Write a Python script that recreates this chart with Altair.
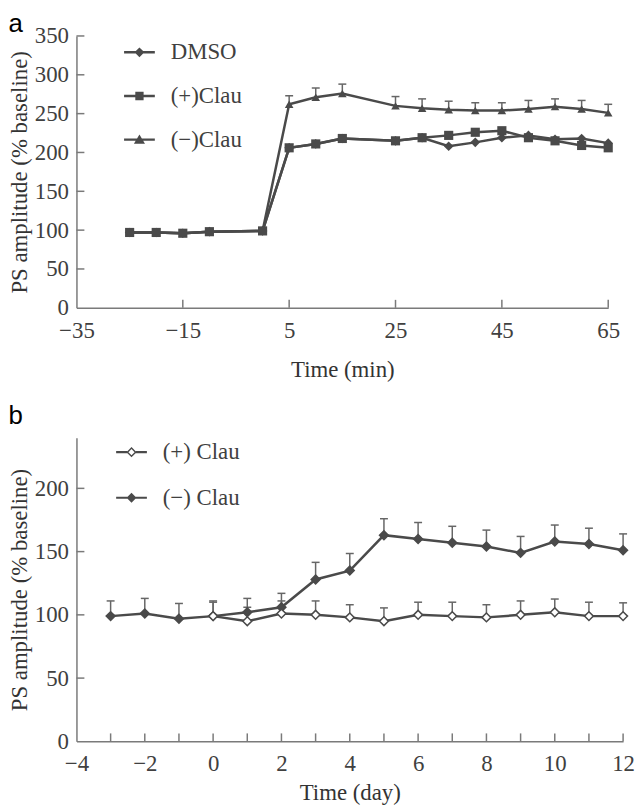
import altair as alt
import pandas as pd

DARK = "#4a4a4a"
ERRC = "#666666"
AXC = "#7a7a7a"
TXT = "#404040"
SERIF = "Liberation Serif"

# ---------------- Panel a data ----------------
a_time = [-25, -20, -15, -10, 0, 5, 10, 15, 25, 30, 35, 40, 45, 50, 55, 60, 65]
a_dmso = [97, 97, 96, 98, 99, 206, 211, 218, 215, 219, 208, 213, 219, 222, 217, 218, 212]
a_plus = [97, 97, 96, 98, 99, 206, 211, 218, 215, 219, 222, 226, 228, 219, 215, 209, 206]
a_minus = [97, 97, 96, 98, 99, 262, 271, 276, 260, 257, 255, 254, 254, 256, 259, 256, 251]
a_minus_err = [None, None, None, None, None, 11, 12, 12, 12, 12, 11, 10, 10, 11, 10, 11, 11]
a_series = ["DMSO", "(+)Clau", "(\u2212)Clau"]
a_xticks = [-15, 5, 25, 45, 65]
a_yticks = [50, 100, 150, 200, 250, 300, 350]

# ---------------- Panel b data ----------------
b_days_plus = [0, 1, 2, 3, 4, 5, 6, 7, 8, 9, 10, 11, 12]
b_plus = [99, 95, 101, 100, 98, 95, 100, 99, 98, 100, 102, 99, 99]
b_plus_err = [11, 11, 10, 11, 10, 10.5, 10, 11, 10, 11, 10.5, 11, 10.5]
b_days_minus = [-3, -2, -1, 0, 1, 2, 3, 4, 5, 6, 7, 8, 9, 10, 11, 12]
b_minus = [99, 101, 97, 99, 102, 106, 128, 135, 163, 160, 157, 154, 149, 158, 156, 151]
b_minus_err = [12, 12, 12, 12, 11, 11, 13.5, 13.5, 13, 13, 13, 13, 13, 13, 12.5, 13]
b_series = ["(\u2212) Clau", "(+) Clau"]  # drawing order: filled first, open on top
b_legend_order = ["(+) Clau", "(\u2212) Clau"]
b_xticks = list(range(-3, 13))
b_yticks = [50, 100, 150, 200]

# ---------------- tables ----------------
rows = []
for name, vals in [("DMSO", a_dmso), ("(\u2212)Clau", a_minus), ("(+)Clau", a_plus)]:
    for i, (t, v) in enumerate(zip(a_time, vals)):
        e = a_minus_err[i] if name == "(\u2212)Clau" else None
        rows.append({"t": t, "v": v, "series": name, "hi": (v + e) if e else None})
dfa = pd.DataFrame(rows)
dfa_err = dfa.dropna(subset=["hi"])

rows = []
for name, days, vals, errs in [("(\u2212) Clau", b_days_minus, b_minus, b_minus_err),
                               ("(+) Clau", b_days_plus, b_plus, b_plus_err)]:
    for t, v, e in zip(days, vals, errs):
        rows.append({"t": t, "v": v, "series": name, "hi": v + e})
dfb = pd.DataFrame(rows)

leg_a = pd.DataFrame({"series": a_series})
leg_b = pd.DataFrame({"series": b_legend_order})

YTITLE = "PS amplitude (% baseline)"


def lab_axis(values, title, pad_label, pad_title):
    return alt.Axis(values=values, title=title, ticks=False, labelPadding=pad_label,
                    titlePadding=pad_title, grid=False, labelOverlap=False,
                    labelFlush=False)


def panel(df, dferr, xdom, ydom, xvals, yvals, xtitle, xt, yt, width, height, letter,
          point_layer, legend_layer, xlabel_pad, xtitle_pad, title_offset):
    xax = lab_axis(xvals, xtitle, xlabel_pad, xtitle_pad)
    yax = lab_axis(yvals, YTITLE, 8, 3)
    xs = alt.Scale(domain=xdom, nice=False, zero=False)
    ys = alt.Scale(domain=ydom, nice=False)
    X = lambda f: alt.X(f, scale=xs, axis=xax, title=xtitle)
    Y = lambda f: alt.Y(f, scale=ys, axis=yax, title=YTITLE)

    rule = alt.Chart(dferr).mark_rule(color=ERRC, strokeWidth=1.5, opacity=1).encode(
        x=X("t:Q"), y=Y("v:Q"), y2="hi:Q")
    cap = alt.Chart(dferr).mark_tick(orient="horizontal", color=ERRC, size=8, thickness=1.5,
                                     opacity=1).encode(x=X("t:Q"), y=Y("hi:Q"))
    line = alt.Chart(df).mark_line(color=DARK, strokeWidth=2.5).encode(
        x=X("t:Q"), y=Y("v:Q"), detail="series:N", order="t:Q")
    pts = point_layer(alt.Chart(df), X, Y)

    xtick = alt.Chart(pd.DataFrame({"t": xt})).mark_tick(
        orient="vertical", color=AXC, size=8, thickness=1.5, yOffset=-4, opacity=1
    ).encode(x=X("t:Q"),
             y=alt.Y(datum=ydom[0], type="quantitative", scale=ys, axis=yax, title=YTITLE))
    ytick = alt.Chart(pd.DataFrame({"v": yt})).mark_tick(
        orient="horizontal", color=AXC, size=8, thickness=1.5, xOffset=4, opacity=1
    ).encode(x=alt.X(datum=xdom[0], type="quantitative", scale=xs, axis=xax, title=xtitle),
             y=Y("v:Q"))

    leg = legend_layer()

    return alt.layer(rule, cap, line, pts, xtick, ytick, leg).resolve_scale(
        shape="independent", fill="independent", size="independent"
    ).properties(
        width=width, height=height,
        title=alt.TitleParams(letter, anchor="start", frame="bounds", font="Liberation Sans",
                              fontSize=26, fontWeight="normal", color="#000",
                              offset=title_offset),
    )


# ----- legend symbols: filled outlines only (line drawn as a thin bar) -----
BAR = "M-1,-0.08H1V0.08H-1Z"
a_paths = [
    BAR + "M0,-0.32L0.32,0L0,0.32L-0.32,0Z",
    BAR + "M-0.27,-0.27H0.27V0.27H-0.27Z",
    BAR + "M0,-0.34L0.36,0.26H-0.36Z",
]
b_paths = [
    "M-1,-0.07H-0.28V0.07H-1Z" "M0.28,-0.07H1V0.07H0.28Z"
    "M0,-0.33L0.33,0L0,0.33L-0.33,0Z" "M0,-0.2L-0.2,0L0,0.2L0.2,0Z",
    "M-1,-0.07H1V0.07H-1Z" "M0,-0.32L0.32,0L0,0.32L-0.32,0Z",
]


def legend_params(lx, ly, rp):
    return dict(orient="none", legendX=lx, legendY=ly, title=None, symbolSize=961,
                symbolStrokeWidth=0, symbolFillColor=DARK, symbolOpacity=1,
                labelFont=SERIF, labelFontSize=23, labelColor=TXT, labelOffset=16,
                rowPadding=rp, padding=0)


def a_points(base, X, Y):
    return base.mark_point(filled=True, color=DARK, opacity=1).encode(
        x=X("t:Q"), y=Y("v:Q"),
        shape=alt.Shape("series:N", scale=alt.Scale(domain=a_series,
                        range=["diamond", "square", "triangle-up"]), legend=None),
        size=alt.Size("series:N", scale=alt.Scale(domain=a_series, range=[95, 75, 110]),
                      legend=None),
    )


def a_legend():
    return alt.Chart(leg_a).transform_filter("false").mark_point(
        filled=True, color=DARK, opacity=1
    ).encode(
        shape=alt.Shape("series:N", scale=alt.Scale(domain=a_series, range=a_paths),
                        legend=alt.Legend(**legend_params(48, 1, 16))),
    )


def b_points(base, X, Y):
    return base.mark_point(shape="diamond", size=80, stroke=DARK, strokeWidth=1.5,
                           opacity=1).encode(
        x=X("t:Q"), y=Y("v:Q"),
        fill=alt.Fill("series:N", scale=alt.Scale(domain=b_series, range=[DARK, "white"]),
                      legend=None),
    )


def b_legend():
    return alt.Chart(leg_b).transform_filter("false").mark_point(
        filled=True, color=DARK, opacity=1
    ).encode(
        shape=alt.Shape("series:N", scale=alt.Scale(domain=b_legend_order, range=b_paths),
                        legend=alt.Legend(**legend_params(40, -1, 18))),
    )


pa = panel(dfa, dfa_err, [-35, 65], [0, 350], [-35, -15, 5, 25, 45, 65],
           [0, 50, 100, 150, 200, 250, 300, 350], "Time (min)", a_xticks, a_yticks,
           536, 274, "a", a_points, a_legend, 12, 16, -12)
pb = panel(dfb, dfb, [-4, 12], [0, 240], [-4, -2, 0, 2, 4, 6, 8, 10, 12],
           [0, 50, 100, 150, 200], "Time (day)", b_xticks, b_yticks,
           551, 306, "b", b_points, b_legend, 11, 7, 8)

chart = alt.vconcat(pa, pb, spacing=22).properties(padding=0).configure_view(
    stroke=None
).configure_axis(
    domainColor=AXC, domainWidth=1.5, labelFont=SERIF, labelFontSize=23, labelColor=TXT,
    titleFont=SERIF, titleFontSize=23, titleFontWeight="normal", titleColor="#333",
    grid=False, labelOverlap=False, labelFlush=False,
)

chart.save("out.html", embed_options={"renderer": "svg", "actions": False})
